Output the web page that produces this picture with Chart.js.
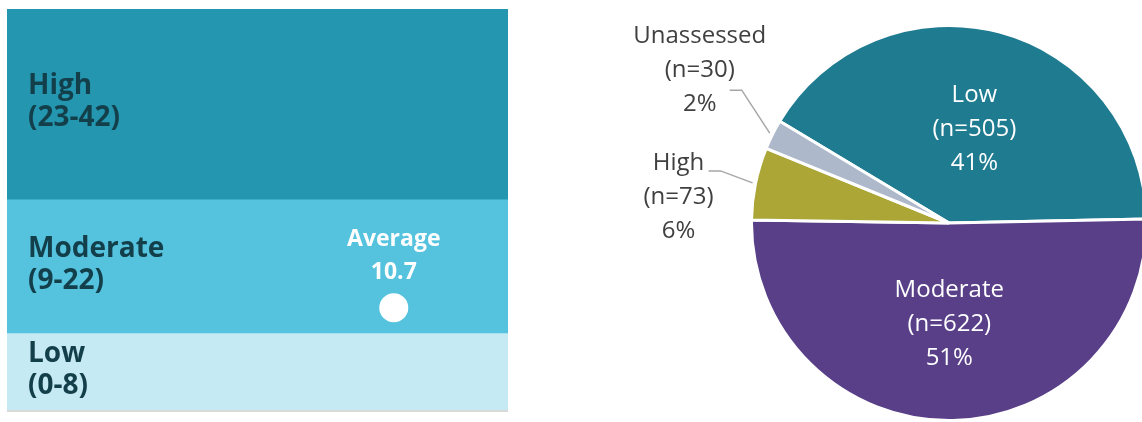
<!DOCTYPE html>
<html>
<head>
<meta charset="utf-8">
<script src="https://cdn.jsdelivr.net/npm/chart.js@4"></script>
<style>
    body { margin: 0; background: #ffffff; overflow: hidden; }
    #scoreBox { position: absolute; left: 7px; top: 9px; width: 501px; height: 404px; }
    #pieBox { position: absolute; left: 600px; top: 0px; width: 560px; height: 440px; }
</style>
</head>
<body>
<div id="scoreBox"><canvas id="scoreChart"></canvas></div>
<div id="pieBox"><canvas id="pieChart"></canvas></div>
<script>
// score bands (bottom to top)
var bandNames = ['Low', 'Moderate', 'High'];
var bandRanges = ['(0-8)', '(9-22)', '(23-42)'];
var bandSizes = [8, 14, 20];
var scoreMax = 42;
var averageScore = 10.7;
var averageX = 0.772;  // horizontal spot of the dot across the band (0..1)

// risk level counts
var riskLabels = ['Low', 'Moderate', 'High', 'Unassessed'];
var riskCounts = [505, 622, 73, 30];
var riskPercents = ['41%', '51%', '6%', '2%'];

document.addEventListener('DOMContentLoaded', function() {
    var bandColors = ['#c6eaf3', '#55c2de', '#2496b0'];
    var darkText = '#133f4b';

    // band names on the left of each band, average text, bottom rule
    var bandLabelPlugin = {
        id: 'bandLabels',
        afterDatasetsDraw: function(chart) {
            var ctx = chart.ctx;
            var area = chart.chartArea;
            ctx.save();
            ctx.font = 'bold 28px "Open Sans"';
            ctx.fillStyle = darkText;
            ctx.textAlign = 'left';
            ctx.textBaseline = 'alphabetic';
            for (var i = 0; i < bandNames.length; i++) {
                var bar = chart.getDatasetMeta(i).data[0];
                var mid = (bar.y + bar.base) / 2;
                ctx.fillText(bandNames[i], area.left + 21, mid - 10);
                ctx.fillText(bandRanges[i], area.left + 21, mid + 22);
            }
            var dot = chart.getDatasetMeta(3).data[0];
            ctx.font = 'bold 23px "Open Sans"';
            ctx.fillStyle = '#ffffff';
            ctx.textAlign = 'center';
            ctx.fillText('Average', dot.x, dot.y - 62);
            ctx.fillText(String(averageScore), dot.x, dot.y - 29);
            ctx.strokeStyle = '#d9d9d9';
            ctx.lineWidth = 2;
            ctx.beginPath();
            ctx.moveTo(area.left, area.bottom + 1);
            ctx.lineTo(area.right, area.bottom + 1);
            ctx.stroke();
            ctx.restore();
        }
    };

    var bandSets = bandNames.map(function(name, i) {
        return {
            label: name,
            data: [{x: 0.5, y: bandSizes[i]}],
            backgroundColor: bandColors[i],
            borderWidth: 0,
            barPercentage: 1,
            categoryPercentage: 1,
            stack: 'bands',
            order: 1
        };
    });
    bandSets.push({
        type: 'scatter',
        label: 'Average',
        data: [{x: averageX, y: averageScore}],
        stack: 'avg',
        order: 0,  // draw on top of the bands
        pointRadius: 14.5,
        pointBackgroundColor: '#ffffff',
        pointBorderWidth: 0
    });

    new Chart(document.getElementById('scoreChart'), {
        type: 'bar',
        data: { datasets: bandSets },
        options: {
            responsive: true,
            maintainAspectRatio: false,
            animation: false,
            layout: { autoPadding: false, padding: { bottom: 3 } },
            plugins: { legend: { display: false }, tooltip: { enabled: false } },
            scales: {
                x: { type: 'linear', display: false, offset: false, stacked: true, min: 0, max: 1, ticks: { stepSize: 1 } },
                y: { display: false, stacked: true, min: 0, max: scoreMax }
            }
        },
        plugins: [bandLabelPlugin]
    });

    // where the outside labels go, relative to the slice edge
    var outsideSpots = {
        2: { elbow: [-32, -12], end: [-44, -12], text: [-74, 14] },
        3: { elbow: [-28, -43], end: [-40, -43], text: [-70, -63] }
    };

    var pieLabelPlugin = {
        id: 'pieLabels',
        afterDatasetsDraw: function(chart) {
            var ctx = chart.ctx;
            var arcs = chart.getDatasetMeta(0).data;
            ctx.save();
            ctx.font = '24px "Open Sans"';
            ctx.textAlign = 'center';
            ctx.textBaseline = 'middle';
            arcs.forEach(function(arc, i) {
                var lines = [riskLabels[i], '(n=' + riskCounts[i] + ')', riskPercents[i]];
                var spot = outsideSpots[i];
                var cx, cy;
                if (!spot) {
                    var pos = arc.tooltipPosition();
                    cx = pos.x; cy = pos.y + 2;
                    ctx.fillStyle = '#ffffff';
                } else {
                    var p = arc.getProps(['x', 'y', 'startAngle', 'endAngle', 'outerRadius']);
                    var mid = (p.startAngle + p.endAngle) / 2;
                    var ex = p.x + Math.cos(mid) * (p.outerRadius + 3);
                    var ey = p.y + Math.sin(mid) * (p.outerRadius + 3);
                    ctx.strokeStyle = '#a6a6a6';
                    ctx.lineWidth = 1.5;
                    ctx.beginPath();
                    ctx.moveTo(ex, ey);
                    ctx.lineTo(ex + spot.elbow[0], ey + spot.elbow[1]);
                    ctx.lineTo(ex + spot.end[0], ey + spot.end[1]);
                    ctx.stroke();
                    cx = ex + spot.text[0]; cy = ey + spot.text[1];
                    ctx.fillStyle = '#404040';
                }
                ctx.fillText(lines[0], cx, cy - 34);
                ctx.fillText(lines[1], cx, cy);
                ctx.fillText(lines[2], cx, cy + 34);
            });
            ctx.restore();
        }
    };

    new Chart(document.getElementById('pieChart'), {
        type: 'pie',
        data: {
            labels: riskLabels,
            datasets: [{
                data: riskCounts,
                backgroundColor: ['#1e7b90', '#583f88', '#aba636', '#adb8cb'],
                borderColor: '#ffffff',
                borderWidth: 3
            }]
        },
        options: {
            responsive: true,
            maintainAspectRatio: false,
            animation: false,
            rotation: 301,
            layout: { padding: { left: 150, top: 24, right: 12, bottom: 18 } },
            plugins: { legend: { display: false }, tooltip: { enabled: false } }
        },
        plugins: [pieLabelPlugin]
    });
});
</script>
</body>
</html>
